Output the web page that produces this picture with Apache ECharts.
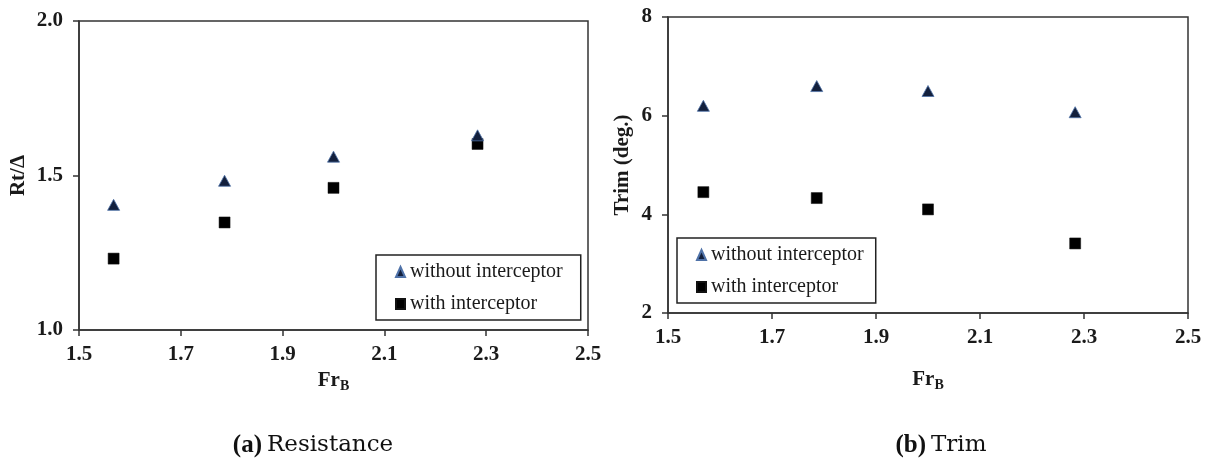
<!DOCTYPE html>
<html>
<head>
<meta charset="utf-8">
<script src="https://cdn.jsdelivr.net/npm/echarts@6/dist/echarts.min.js"></script>
<style>
  html, body { margin: 0; padding: 0; background: #fff; }
  #chart { width: 1207px; height: 460px; }
</style>
</head>
<body>
<div id="chart"></div>
<script>
// Froude number (beam based) for the four test speeds
const froude = [1.568, 1.786, 2.0, 2.283];

// (a) Resistance-to-displacement ratio
const resistanceWithout = [1.405, 1.483, 1.561, 1.630];
const resistanceWith = [1.231, 1.348, 1.460, 1.602];

// (b) Trim angle in degrees
const trimWithout = [6.20, 6.60, 6.50, 6.07];
const trimWith = [4.45, 4.33, 4.10, 3.41];

const seriesNames = ['without interceptor', 'with interceptor'];
const captions = [['(a)', 'Resistance'], ['(b)', 'Trim']];

const serif = '"Liberation Serif", "DejaVu Serif", serif';
const wideSerif = '"DejaVu Serif", "Liberation Serif", serif';
const triColor = '#13203d';
const sqColor = '#000000';

function pairs(xs, ys) { return xs.map((x, i) => [x, ys[i]]); }

function xAxisFor(gridIndex, gap) {
  return {
    type: 'value', gridIndex, min: 1.5, max: 2.5, interval: 0.2,
    name: '{m|Fr}{s|B}', nameLocation: 'middle', nameGap: gap,
    nameTextStyle: {
      rich: {
        m: { fontFamily: serif, fontWeight: 'bold', fontSize: 21, color: '#1a1a1a' },
        s: { fontFamily: serif, fontWeight: 'bold', fontSize: 14, color: '#1a1a1a', verticalAlign: 'bottom', padding: [10, 0, 0, 0] }
      }
    },
    axisLine: { show: true, lineStyle: { color: '#333', width: 1.5 } },
    axisTick: { show: true, inside: false, length: 6, lineStyle: { color: '#333', width: 1.5 } },
    axisLabel: { formatter: v => v.toFixed(1), fontFamily: serif, fontWeight: 'bold', fontSize: 21, color: '#1a1a1a', margin: 14 },
    splitLine: { show: false }
  };
}

function yAxisFor(gridIndex, min, max, interval, digits, name, gap) {
  return {
    type: 'value', gridIndex, min, max, interval,
    name, nameLocation: 'middle', nameGap: gap, nameRotate: 90,
    nameTextStyle: { fontFamily: serif, fontWeight: 'bold', fontSize: 21, color: '#1a1a1a' },
    axisLine: { show: true, lineStyle: { color: '#333', width: 1.5 } },
    axisTick: { show: true, inside: false, length: 6, lineStyle: { color: '#333', width: 1.5 } },
    axisLabel: { formatter: v => v.toFixed(digits), fontFamily: serif, fontWeight: 'bold', fontSize: 21, color: '#1a1a1a', margin: 16 },
    splitLine: { show: false }
  };
}

function scatter(name, idx, data, isTri) {
  return {
    type: 'scatter', name, xAxisIndex: idx, yAxisIndex: idx,
    data,
    symbol: isTri ? 'triangle' : 'rect',
    symbolSize: isTri ? [12, 11] : 11,
    itemStyle: isTri
      ? { color: triColor, borderColor: '#4f72a8', borderWidth: 0.8, opacity: 1 }
      : { color: sqColor, borderColor: '#111', borderWidth: 0.5, opacity: 1 },
    z: isTri ? 3 : 2
  };
}

function legendAt(left, top, padRight) {
  return {
    left, top,
    orient: 'vertical',
    data: seriesNames,
    borderColor: '#222', borderWidth: 1.5,
    padding: [7, padRight, 6, 19],
    itemGap: 12,
    itemWidth: 9, itemHeight: 10,
    selectedMode: false,
    textStyle: { fontFamily: serif, fontSize: 20, color: '#1a1a1a' }
  };
}

const option = {
  backgroundColor: '#ffffff',
  animation: false,
  title: captions.map((c, i) => ({
    text: '{b|' + c[0] + '} {r|' + c[1] + '}',
    left: i === 0 ? 308 : 936,
    top: 428,
    textAlign: 'center',
    textStyle: {
      fontWeight: 'normal',
      rich: {
        b: { fontFamily: serif, fontWeight: 'bold', fontSize: 25, color: '#111' },
        r: { fontFamily: wideSerif, fontWeight: 'normal', fontSize: 23, color: '#111' }
      }
    }
  })),
  grid: [
    { left: 79, top: 21, width: 509, height: 309, show: true, borderColor: '#333', borderWidth: 1.5, backgroundColor: '#fff' },
    { left: 668, top: 17, width: 520, height: 296, show: true, borderColor: '#333', borderWidth: 1.5, backgroundColor: '#fff' }
  ],
  xAxis: [xAxisFor(0, 39), xAxisFor(1, 55)],
  yAxis: [
    yAxisFor(0, 1.0, 2.0, 0.5, 1, 'Rt/Δ', 50),
    yAxisFor(1, 2, 8, 2, 0, 'Trim (deg.)', 35)
  ],
  legend: [legendAt(376, 255, 18), legendAt(677, 238, 12)],
  series: [
    scatter(seriesNames[0], 0, pairs(froude, resistanceWithout), true),
    scatter(seriesNames[1], 0, pairs(froude, resistanceWith), false),
    scatter(seriesNames[0], 1, pairs(froude, trimWithout), true),
    scatter(seriesNames[1], 1, pairs(froude, trimWith), false)
  ]
};

const chart = echarts.init(document.getElementById('chart'), null, { renderer: 'canvas' });
chart.setOption(option);
</script>
</body>
</html>
